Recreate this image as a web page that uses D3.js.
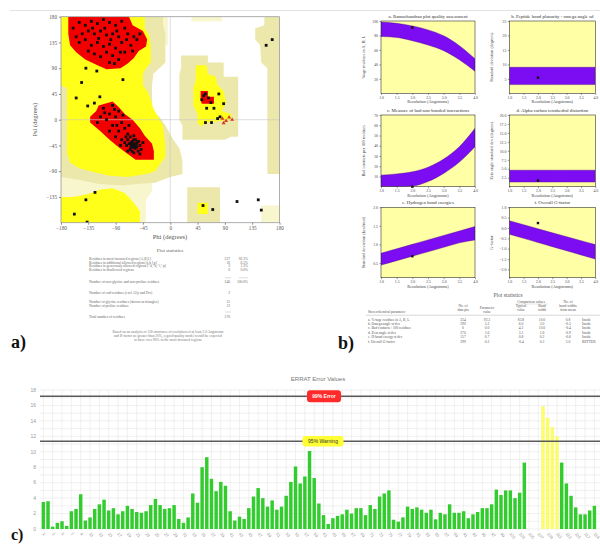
<!DOCTYPE html>
<html>
<head>
<meta charset="utf-8">
<script src="https://cdn.jsdelivr.net/npm/d3@7"></script>
<style>
  body { margin: 0; background: #fff; }
  svg { display: block; }
</style>
</head>
<body>
<script>
// ---------- a) Ramachandran plot ----------
const ramaTicks = [-180, -135, -90, -45, 0, 45, 90, 135, 180];

// region outlines in (phi, psi) degrees
const paleRegions = [
    [[35, 180], [85, 180], [85, 172], [35, 172]],
    [[-180, -100], [-30, -105], [-30, -125], [-40, -140], [-40, -180], [-180, -180]],
    [[150, -150], [180, -150], [180, -180], [150, -180]],
    [[-12, 180], [-4, 180], [-4, 130], [-12, 130]]
];
const generousRegions = [
    [[-180, 180], [-12, 180], [-12, 165], [-8, 150], [-8, 100], [-18, 90], [-28, 80], [-30, 60], [-30, 15], [-18, 5], [-8, -10], [5, -35], [15, -50], [20, -70], [20, -95], [0, -100], [-25, -110], [-50, -112], [-80, -115], [-120, -112], [-150, -105], [-180, -100]],
    [[18, 112], [62, 112], [62, 100], [88, 100], [88, 75], [112, 75], [112, -30], [100, -30], [90, -35], [20, -35], [20, -10], [15, 0], [15, 80], [18, 90]],
    [[155, 180], [180, 180], [180, -95], [160, -95], [160, 90], [150, 100], [148, 130], [140, 140], [140, 160], [155, 165]],
    [[28, -118], [82, -118], [82, -180], [28, -180]]
];
const allowedRegions = [
    [[-180, 180], [-42, 180], [-42, 160], [-35, 148], [-32, 130], [-32, 100], [-40, 90], [-45, 80], [-45, 60], [-38, 50], [-32, 35], [-28, 20], [-20, 5], [-12, -10], [-10, -30], [-8, -45], [-8, -65], [-15, -75], [-25, -90], [-40, -95], [-70, -100], [-100, -98], [-125, -92], [-150, -85], [-165, -75], [-170, -60], [-170, 55], [-180, 60]],
    [[-180, -180], [-50, -180], [-50, -160], [-60, -145], [-75, -128], [-95, -120], [-115, -122], [-135, -130], [-160, -135], [-180, -135]],
    [[42, 95], [60, 95], [62, 80], [75, 75], [78, 60], [88, 50], [92, 30], [85, 15], [100, 10], [100, 0], [60, -5], [50, -12], [45, -5], [45, 10], [38, 25], [38, 55], [42, 70]],
    [[45, -145], [62, -145], [62, -165], [45, -165]]
];
const coreRegions = [
    [[-168, 180], [-68, 180], [-62, 165], [-45, 155], [-38, 140], [-40, 128], [-52, 120], [-60, 108], [-70, 98], [-82, 90], [-105, 88], [-120, 95], [-140, 105], [-155, 118], [-165, 130], [-168, 150]],
    [[-118, 25], [-95, 32], [-85, 22], [-75, 10], [-62, 0], [-50, -15], [-42, -28], [-30, -42], [-27, -55], [-27, -70], [-57, -70], [-70, -60], [-85, -48], [-100, -35], [-115, -20], [-132, -5], [-132, 5], [-122, 15]],
    [[50, 50], [62, 50], [62, 40], [72, 40], [72, 28], [52, 28], [50, 35]]
];

const residuePoints = [
    [-150, 170], [-140, 165], [-130, 172], [-120, 168], [-110, 175], [-100, 170], [-90, 165], [-80, 172], [-75, 160],
    [-145, 150], [-135, 155], [-125, 150], [-115, 155], [-105, 148], [-95, 150], [-85, 145], [-70, 150], [-60, 145],
    [-150, 135], [-140, 140], [-130, 130], [-120, 135], [-110, 128], [-100, 132], [-90, 125], [-80, 135], [-65, 130],
    [-55, 140], [-125, 115], [-115, 110], [-105, 118], [-95, 112], [-85, 105], [-75, 118], [-100, 100], [-160, 160],
    [-155, 145], [-135, 120], [-118, 142], [-98, 140], [-88, 155], [-72, 140], [-108, 160], [-128, 160], [-62, 120],
    [-50, 150], [-82, 118], [-92, 98],
    [-110, 20], [-100, 10], [-95, 25], [-90, 5], [-85, 15], [-80, -5], [-105, 0], [-115, 5], [-95, -10], [-85, -20],
    [-75, -15], [-70, -25], [-90, -30], [-80, -35], [-70, -35], [-65, -40], [-60, -45], [-55, -40], [-62, -38],
    [-58, -50], [-65, -48], [-68, -42], [-60, -35], [-55, -48], [-50, -45], [-63, -55], [-57, -42], [-66, -30],
    [-72, -45], [-52, -38], [-48, -52], [-60, -58], [-70, -55], [-75, -40], [-100, -20], [-120, -5], [-88, -10],
    [-78, 8], [-92, 18], [-68, -10], [-60, -28], [-53, -55], [-45, -40], [-62, -48], [-57, -35], [-66, -52],
    [-73, -30], [-82, -45], [-50, -60], [-108, 12], [-61, -42], [-59, -47], [-64, -44], [-56, -45],
    [-139, 90], [-121, 85], [-146, 65], [-78, 70], [-155, 38], [-125, 29], [-136, 24], [-116, 40],
    [55, 42], [58, 45], [63, 38], [52, 35], [67, 30], [72, 20], [60, 20], [80, 45], [82, 5], [78, 2],
    [68, -5], [58, -5], [88, 28],
    [-124, -127], [-137, -179], [-158, -165], [-139, -140], [54, -150], [70, -157], [110, -143], [145, -140],
    [150, -158], [158, 130], [168, 140]
];
const glycinePoints = [[86, 2], [92, -2], [97, 4], [102, 0], [88, -6]];

const ramaStatLabels = [
    "Residues in most favoured regions [A,B,L]",
    "Residues in additional allowed regions [a,b,l,p]",
    "Residues in generously allowed regions [~a,~b,~l,~p]",
    "Residues in disallowed regions",
    "Number of non-glycine and non-proline residues",
    "Number of end-residues (excl. Gly and Pro)",
    "Number of glycine residues (shown as triangles)",
    "Number of proline residues",
    "Total number of residues"
];
const ramaStatCounts = ["227", "16", "3", "0", "246", "2", "15", "13", "276"];
const ramaStatPercents = ["92.3%", "6.5%", "1.2%", "0.0%", "100.0%", "", "", "", ""];
const ramaFootnote = [
    "Based on an analysis of 118 structures of resolution of at least 2.0 Angstroms",
    "and R-factor no greater than 20%, a good quality model would be expected",
    "to have over 90% in the most favoured regions"
];

// ---------- b) PROCHECK quality plots ----------
const resolution = [1.0, 1.5, 2.0, 2.5, 3.0, 3.5, 4.0];
const resTicks = [1.0, 1.5, 2.0, 2.5, 3.0, 3.5, 4.0];
const modelResolution = 2.0;

const favouredHi = [98.6, 96.8, 93.2, 87.7, 79.5, 65.9, 47.7];
const favouredLo = [78.6, 77.3, 72.7, 66.8, 59.0, 46.4, 30.5];
const omegaHi = [9.0, 9.0, 9.0, 9.0, 9.0, 9.0, 9.0];
const omegaLo = [3.0, 3.0, 3.0, 3.0, 3.0, 3.0, 3.0];
const badContactHi = [11.3, 12.5, 14.5, 19.0, 27.0, 39.0, 57.0];
const badContactLo = [0.0, 0.0, 0.6, 5.0, 13.0, 24.0, 39.0];
const zetaHi = [4.6, 4.6, 4.6, 4.6, 4.6, 4.6, 4.6];
const zetaLo = [1.3, 1.3, 1.3, 1.3, 1.3, 1.3, 1.3];
const hbondHi = [0.76, 0.88, 1.0, 1.12, 1.24, 1.36, 1.48];
const hbondLo = [0.44, 0.56, 0.68, 0.8, 0.92, 1.04, 1.12];
const gfactorHi = [0.35, 0.16, -0.04, -0.23, -0.42, -0.61, -0.8];
const gfactorLo = [-0.3, -0.5, -0.7, -0.9, -1.1, -1.3, -1.5];
const modelValues = [91, 5.4, 0, 1.7, 0.68, 0.24];

const panelTitles = [
    "a. Ramachandran plot quality assessment",
    "b. Peptide bond planarity - omega angle sd",
    "c. Measure of bad non-bonded interactions",
    "d. Alpha carbon tetrahedral distortion",
    "e. Hydrogen bond energies",
    "f. Overall G-factor"
];
const panelYTitles = [
    "%age residues in A, B, L",
    "Standard deviation (degrees)",
    "Bad contacts per 100 residues",
    "Zeta angle standard dev (degrees)",
    "Standard deviation (kcal/mol)",
    "G-factor"
];
const panelYDomains = [[0, 100], [0, 25], [0, 70], [0, 20], [0.1, 2.0], [-2.4, 1.0]];
const panelYTicks = [
    [20, 40, 60, 80, 100],
    [5, 10, 15, 20, 25],
    [10, 20, 30, 40, 50, 60, 70],
    [2.5, 5.0, 7.5, 10.0, 12.5, 15.0, 17.5, 20.0],
    [0.5, 1.0, 1.5, 2.0],
    [-2.0, -1.5, -1.0, -0.5, 0.0, 0.5, 1.0]
];

const stereoParams = [
    "a. %-tage residues in A, B, L",
    "b. Omega angle st dev",
    "c. Bad contacts / 100 residues",
    "d. Zeta angle st dev",
    "e. H-bond energy st dev",
    "f. Overall G-factor"
];
const stereoDataPts = ["234", "290", "0", "270", "157", "299"];
const stereoValues = ["92.3", "5.2", "0.0", "1.6", "0.7", "0.2"];
const stereoTypical = ["83.8", "6.0", "4.2", "3.1", "0.8", "-0.4"];
const stereoBandWidth = ["10.0", "3.0", "10.0", "1.6", "0.2", "0.3"];
const stereoFromMean = ["0.8", "-0.3", "-0.4", "-0.9", "-0.6", "2.0"];
const stereoVerdict = ["Inside", "Inside", "Inside", "Inside", "Inside", "BETTER"];

// ---------- c) ERRAT ----------
const errValues = [
    3.5, 3.6, 0.3, 0.8, 1.0, 0.4, 2.3, 2.6, 4.5, 1.1, 1.5, 2.6, 3.2, 3.8, 2.4, 2.7, 1.9, 2.3, 3.0, 2.6,
    2.2, 2.1, 2.3, 3.1, 3.9, 3.1, 2.6, 2.7, 3.1, 1.3, 0.8, 1.5, 4.6, 3.4, 8.0, 9.3, 6.5, 4.9, 6.1, 5.6,
    2.3, 1.1, 1.6, 1.3, 2.7, 4.2, 5.3, 4.0, 2.9, 3.7, 2.5, 2.9, 4.3, 6.1, 8.1, 5.9, 6.8, 10.1, 6.6, 3.3,
    1.8, 0.65, 1.4, 1.7, 1.9, 2.5, 2.0, 2.7, 2.7, 1.8, 3.1, 2.6, 4.2, 4.6, 5.0, 1.2, 0.95, 1.5, 2.9, 2.6,
    2.8, 2.5, 2.1, 2.5, 1.25, 2.1, 1.9, 3.2, 2.1, 2.1, 2.3, 1.4, 1.9, 2.2, 2.7, 2.7, 3.2, 5.1, 4.4, 5.0,
    5.0, 4.0, 4.7, 8.6, 0, 0, 0, 15.9, 14.4, 13.2, 12.0, 8.6, 5.9, 4.3, 2.8, 1.9, 1.9, 2.4, 3.0
];
const errResidues = errValues.map((v, i) => i + 1);
const errYTicks = [0, 2, 4, 6, 8, 10, 12, 14, 16, 18];
const errorLimit = 17.19;    // 99%
const warningLimit = 11.36;  // 95%

// ======================================================
const W = 600, H = 546;
const serif = "'Liberation Serif', 'DejaVu Serif', serif";
const sans = "'Liberation Sans', Arial, sans-serif";

const svg = d3.select('body').append('svg')
    .attr('width', W)
    .attr('height', H);

svg.append('line')
    .attr('x1', 10).attr('x2', W).attr('y1', 10.5).attr('y2', 10.5)
    .attr('stroke', '#e2e2e2');

// ---------------- a) ----------------
const xR = d3.scaleLinear().domain([-180, 180]).range([61, 279.5]);
const yR = d3.scaleLinear().domain([-180, 180]).range([222.7, 16.7]);

svg.append('clipPath').attr('id', 'ramaClip')
    .append('rect')
    .attr('x', xR(-180)).attr('y', yR(180))
    .attr('width', xR(180) - xR(-180)).attr('height', yR(-180) - yR(180));

const rama = svg.append('g');
const ramaArea = rama.append('g').attr('clip-path', 'url(#ramaClip)');
const poly = d3.line().x(d => xR(d[0])).y(d => yR(d[1]));

ramaArea.append('rect')
    .attr('x', xR(-180)).attr('y', yR(180))
    .attr('width', xR(180) - xR(-180)).attr('height', yR(-180) - yR(180))
    .attr('fill', '#fff');

function drawRegions(list, fill) {
    ramaArea.selectAll(null)
        .data(list)
        .enter()
        .append('path')
        .attr('d', d => poly(d) + 'Z')
        .attr('fill', fill);
}
drawRegions(paleRegions, '#f8f6cc');
drawRegions(generousRegions, '#ece7ab');
drawRegions(allowedRegions, '#ffff1a');
drawRegions(coreRegions, '#f20000');

ramaArea.append('line')
    .attr('x1', xR(0)).attr('x2', xR(0)).attr('y1', yR(180)).attr('y2', yR(-180))
    .attr('stroke', '#c8c8c8').attr('stroke-width', 0.6);
ramaArea.append('line')
    .attr('x1', xR(-180)).attr('x2', xR(180)).attr('y1', yR(0)).attr('y2', yR(0))
    .attr('stroke', '#c8c8c8').attr('stroke-width', 0.6);

ramaArea.selectAll('rect.res')
    .data(residuePoints)
    .enter()
    .append('rect')
    .attr('class', 'res')
    .attr('x', d => xR(d[0]) - 1.4)
    .attr('y', d => yR(d[1]) - 1.4)
    .attr('width', 2.8)
    .attr('height', 2.8)
    .attr('fill', '#111');

ramaArea.selectAll('path.gly')
    .data(glycinePoints)
    .enter()
    .append('path')
    .attr('class', 'gly')
    .attr('d', d3.symbol(d3.symbolTriangle, 7))
    .attr('transform', d => `translate(${xR(d[0])},${yR(d[1])})`)
    .attr('fill', '#d63a1a');

rama.append('rect')
    .attr('x', xR(-180)).attr('y', yR(180))
    .attr('width', xR(180) - xR(-180)).attr('height', yR(-180) - yR(180))
    .attr('fill', 'none').attr('stroke', '#9a9a9a').attr('stroke-width', 0.8);

const ramaXAxis = rama.append('g')
    .attr('transform', `translate(0,${yR(-180)})`)
    .call(d3.axisBottom(xR).tickValues(ramaTicks).tickSize(2).tickPadding(2));
const ramaYAxis = rama.append('g')
    .attr('transform', `translate(${xR(-180)},0)`)
    .call(d3.axisLeft(yR).tickValues(ramaTicks.slice(1).reverse()).tickSize(2).tickPadding(2));
[ramaXAxis, ramaYAxis].forEach(a => {
    a.select('.domain').remove();
    a.selectAll('line').attr('stroke', '#888');
    a.selectAll('text').attr('font-family', serif).attr('font-size', 5.2).attr('fill', '#555');
});

rama.append('text')
    .attr('x', 170).attr('y', 239)
    .attr('text-anchor', 'middle')
    .attr('font-family', serif).attr('font-size', 6.5).attr('fill', '#555')
    .text('Phi (degrees)');
rama.append('text')
    .attr('transform', `translate(37,${yR(0)}) rotate(-90)`)
    .attr('text-anchor', 'middle')
    .attr('font-family', serif).attr('font-size', 6.5).attr('fill', '#555')
    .text('Psi (degrees)');

rama.append('text')
    .attr('x', 170).attr('y', 252)
    .attr('text-anchor', 'middle')
    .attr('font-family', serif).attr('font-size', 5).attr('fill', '#666')
    .text('Plot statistics');

const statRowY = [260, 263.7, 267.4, 271.1, 282.5, 293.5, 302.5, 306.8, 318];
const statsG = rama.append('g')
    .attr('font-family', serif).attr('font-size', 3.6).attr('fill', '#666');
statsG.selectAll('text.lbl')
    .data(ramaStatLabels)
    .enter()
    .append('text')
    .attr('class', 'lbl')
    .attr('x', 89).attr('y', (d, i) => statRowY[i])
    .text(d => d);
statsG.selectAll('text.cnt')
    .data(ramaStatCounts)
    .enter()
    .append('text')
    .attr('class', 'cnt')
    .attr('x', 230).attr('y', (d, i) => statRowY[i])
    .attr('text-anchor', 'end')
    .text(d => d);
statsG.selectAll('text.pct')
    .data(ramaStatPercents)
    .enter()
    .append('text')
    .attr('class', 'pct')
    .attr('x', 248).attr('y', (d, i) => statRowY[i])
    .attr('text-anchor', 'end')
    .text(d => d);
[[277.8, true], [312, false]].forEach(([y, both]) => {
    statsG.append('line').attr('x1', 225).attr('x2', 231).attr('y1', y).attr('y2', y)
        .attr('stroke', '#aaa').attr('stroke-width', 0.4);
    if (both) statsG.append('line').attr('x1', 239).attr('x2', 248).attr('y1', y).attr('y2', y)
        .attr('stroke', '#aaa').attr('stroke-width', 0.4);
});

rama.append('g')
    .selectAll('text')
    .data(ramaFootnote)
    .enter()
    .append('text')
    .attr('x', 168).attr('y', (d, i) => 332.5 + i * 4.4)
    .attr('text-anchor', 'middle')
    .attr('font-family', serif).attr('font-size', 3.6).attr('fill', '#777')
    .text(d => d);

// ---------------- b) ----------------
const bands = [
    [favouredHi, favouredLo], [omegaHi, omegaLo],
    [badContactHi, badContactLo], [zetaHi, zetaLo],
    [hbondHi, hbondLo], [gfactorHi, gfactorLo]
];
const colX = [381, 509.3];
const colW = [94, 86];
const rowTop = [21, 115, 207.3];
const rowBottom = [93.3, 186.7, 277.7];

const xRes = d3.scaleLinear().domain([1.0, 4.0]);

bands.forEach((band, k) => {
    const col = k % 2, row = Math.floor(k / 2);
    const x0 = colX[col], plotW = colW[col];
    const xs = xRes.copy().range([x0, x0 + plotW]);
    const ys = d3.scaleLinear().domain(panelYDomains[k]).range([rowBottom[row], rowTop[row]]);
    const g = svg.append('g');
    const clipId = 'pclip' + k;
    g.append('clipPath').attr('id', clipId).append('rect')
        .attr('x', x0).attr('y', rowTop[row]).attr('width', plotW).attr('height', rowBottom[row] - rowTop[row]);

    g.append('rect')
        .attr('x', x0).attr('y', rowTop[row]).attr('width', plotW).attr('height', rowBottom[row] - rowTop[row])
        .attr('fill', '#ffffa6');

    const area = d3.area()
        .x((d, i) => xs(resolution[i]))
        .y0((d, i) => ys(band[1][i]))
        .y1((d, i) => ys(band[0][i]))
        .curve(d3.curveMonotoneX);
    g.append('path')
        .datum(resolution)
        .attr('clip-path', `url(#${clipId})`)
        .attr('d', area)
        .attr('fill', '#7c0cf2')
        .attr('stroke', '#4a0090').attr('stroke-width', 0.4);

    g.append('rect')
        .attr('x', xs(modelResolution) - 1.2).attr('y', ys(modelValues[k]) - 1.2)
        .attr('width', 2.4).attr('height', 2.4)
        .attr('fill', '#111');

    g.append('rect')
        .attr('x', x0).attr('y', rowTop[row]).attr('width', plotW).attr('height', rowBottom[row] - rowTop[row])
        .attr('fill', 'none').attr('stroke', '#333').attr('stroke-width', 0.6);

    const ax = g.append('g').attr('transform', `translate(0,${rowBottom[row]})`)
        .call(d3.axisBottom(xs).tickValues(resTicks).tickFormat(d3.format('.1f')).tickSize(1.5).tickPadding(1.5));
    const ay = g.append('g').attr('transform', `translate(${x0},0)`)
        .call(d3.axisLeft(ys).tickValues(panelYTicks[k])
            .tickFormat(k === 3 || k >= 4 ? d3.format('.1f') : d3.format('d'))
            .tickSize(1.5).tickPadding(1.5));
    [ax, ay].forEach(a => {
        a.select('.domain').remove();
        a.selectAll('line').attr('stroke', '#333').attr('stroke-width', 0.5);
        a.selectAll('text').attr('font-family', serif).attr('font-size', 3.8).attr('fill', '#444');
    });

    g.append('text')
        .attr('x', x0 + plotW / 2).attr('y', rowTop[row] - 3)
        .attr('text-anchor', 'middle')
        .attr('font-family', serif).attr('font-size', 4.8).attr('fill', '#333')
        .text(panelTitles[k]);
    g.append('text')
        .attr('x', x0 + plotW / 2).attr('y', rowBottom[row] + 10)
        .attr('text-anchor', 'middle')
        .attr('font-family', serif).attr('font-size', 4.3).attr('fill', '#444')
        .text('Resolution (Angstroms)');
    g.append('text')
        .attr('transform', `translate(${x0 - 16},${(rowTop[row] + rowBottom[row]) / 2}) rotate(-90)`)
        .attr('text-anchor', 'middle')
        .attr('font-family', serif).attr('font-size', 4.3).attr('fill', '#444')
        .text(panelYTitles[k]);
});

// b) statistics table
const tb = svg.append('g').attr('font-family', serif).attr('fill', '#555');
tb.append('text').attr('x', 508).attr('y', 297).attr('text-anchor', 'middle')
    .attr('font-size', 5.5).text('Plot statistics');
const hdr = [
    [368, 313, 'start', 'Stereochemical parameter'],
    [463, 306.5, 'middle', 'No. of'], [463, 311, 'middle', 'data pts'],
    [487, 308.5, 'middle', 'Parameter'], [487, 312.5, 'middle', 'value'],
    [531, 302.5, 'middle', 'Comparison values'],
    [521, 307, 'middle', 'Typical'], [521, 311, 'middle', 'value'],
    [542, 307, 'middle', 'Band'], [542, 311, 'middle', 'width'],
    [568, 302.5, 'middle', 'No. of'], [568, 306.8, 'middle', 'band widths'], [568, 311, 'middle', 'from mean']
];
tb.selectAll('text.h')
    .data(hdr)
    .enter()
    .append('text')
    .attr('class', 'h')
    .attr('x', d => d[0]).attr('y', d => d[1])
    .attr('text-anchor', d => d[2])
    .attr('font-size', 3.6)
    .text(d => d[3]);
tb.append('line').attr('x1', 366).attr('x2', 600).attr('y1', 315.2).attr('y2', 315.2)
    .attr('stroke', '#999').attr('stroke-width', 0.4);
tb.append('line').attr('x1', 515).attr('x2', 548).attr('y1', 304).attr('y2', 304)
    .attr('stroke', '#aaa').attr('stroke-width', 0.3);

const stereoCols = [
    [stereoParams, 368, 'start'],
    [stereoDataPts, 463, 'middle'],
    [stereoValues, 487, 'middle'],
    [stereoTypical, 521, 'middle'],
    [stereoBandWidth, 542, 'middle'],
    [stereoFromMean, 568, 'middle'],
    [stereoVerdict, 582, 'start']
];
stereoCols.forEach(([vals, x, anchor]) => {
    tb.append('g')
        .selectAll('text')
        .data(vals)
        .enter()
        .append('text')
        .attr('x', x).attr('y', (d, i) => 320.5 + i * 4.4)
        .attr('text-anchor', anchor)
        .attr('font-size', 3.6)
        .text(d => d);
});

// ---------------- c) ERRAT ----------------
const xE = d3.scaleBand()
    .domain(errResidues)
    .range([41, 41 + errResidues.length * 4.67])
    .paddingInner(0.26)
    .paddingOuter(0.13);
const yE = d3.scaleLinear().domain([0, 18]).range([529, 390]);

const eg = svg.append('g');

// grid
eg.selectAll('line.hg')
    .data(d3.range(0, 19))
    .enter()
    .append('line')
    .attr('class', 'hg')
    .attr('x1', 40).attr('x2', W)
    .attr('y1', d => yE(d)).attr('y2', d => yE(d))
    .attr('stroke', '#e9e9e9').attr('stroke-width', 0.7);
eg.selectAll('line.vg')
    .data(errResidues.filter((d, i) => i % 2 === 0))
    .enter()
    .append('line')
    .attr('class', 'vg')
    .attr('x1', d => xE(d) + xE.bandwidth() / 2).attr('x2', d => xE(d) + xE.bandwidth() / 2)
    .attr('y1', yE(18)).attr('y2', yE(0) + 2)
    .attr('stroke', '#e9e9e9').attr('stroke-width', 0.7);

eg.selectAll('rect.bar')
    .data(errValues)
    .enter()
    .append('rect')
    .attr('class', 'bar')
    .attr('x', (d, i) => xE(errResidues[i]))
    .attr('y', d => yE(d))
    .attr('width', xE.bandwidth())
    .attr('height', d => yE(0) - yE(d))
    .attr('fill', d => d >= errorLimit ? '#ff3333' : d >= warningLimit ? '#fbfb6e' : '#33cc2e');

eg.selectAll('text.yl')
    .data(errYTicks)
    .enter()
    .append('text')
    .attr('class', 'yl')
    .attr('x', 36).attr('y', d => yE(d) + 1.8)
    .attr('text-anchor', 'end')
    .attr('font-family', sans).attr('font-size', 5).attr('fill', '#9a9a9a')
    .text(d => d);

eg.selectAll('text.xl')
    .data(errResidues.filter((d, i) => i % 2 === 0))
    .enter()
    .append('text')
    .attr('class', 'xl')
    .attr('transform', d => `translate(${xE(d) + xE.bandwidth() / 2 - 1},${yE(0) + 5}) rotate(50)`)
    .attr('font-family', sans).attr('font-size', 4.2).attr('fill', '#9a9a9a')
    .text(d => d);

[errorLimit, warningLimit].forEach(v => {
    eg.append('line')
        .attr('x1', 40).attr('x2', W)
        .attr('y1', yE(v)).attr('y2', yE(v))
        .attr('stroke', '#5a5a5a').attr('stroke-width', 1.6);
});

eg.append('rect')
    .attr('x', 307).attr('y', yE(errorLimit) - 6).attr('width', 34).attr('height', 12).attr('rx', 3)
    .attr('fill', '#ff2a2a');
eg.append('text')
    .attr('x', 324).attr('y', yE(errorLimit) + 1.8)
    .attr('text-anchor', 'middle')
    .attr('font-family', sans).attr('font-size', 5).attr('font-weight', 'bold').attr('fill', '#fff')
    .text('99% Error');
eg.append('rect')
    .attr('x', 302.5).attr('y', yE(warningLimit) - 5.3).attr('width', 41).attr('height', 10.6).attr('rx', 3)
    .attr('fill', '#ffff33');
eg.append('text')
    .attr('x', 323).attr('y', yE(warningLimit) + 1.8)
    .attr('text-anchor', 'middle')
    .attr('font-family', sans).attr('font-size', 5).attr('fill', '#333')
    .text('95% Warning');

eg.append('text')
    .attr('x', 318).attr('y', 381)
    .attr('text-anchor', 'middle')
    .attr('font-family', sans).attr('font-size', 6).attr('fill', '#777')
    .text('ERRAT Error Values');

// panel letters
[['a)', 11, 348, 18], ['b)', 338, 349, 18], ['c)', 11, 540, 16]].forEach(([t, x, y, fs]) => {
    svg.append('text')
        .attr('x', x).attr('y', y)
        .attr('font-family', serif).attr('font-size', fs).attr('font-weight', 'bold')
        .attr('fill', '#111')
        .text(t);
});
</script>
</body>
</html>
